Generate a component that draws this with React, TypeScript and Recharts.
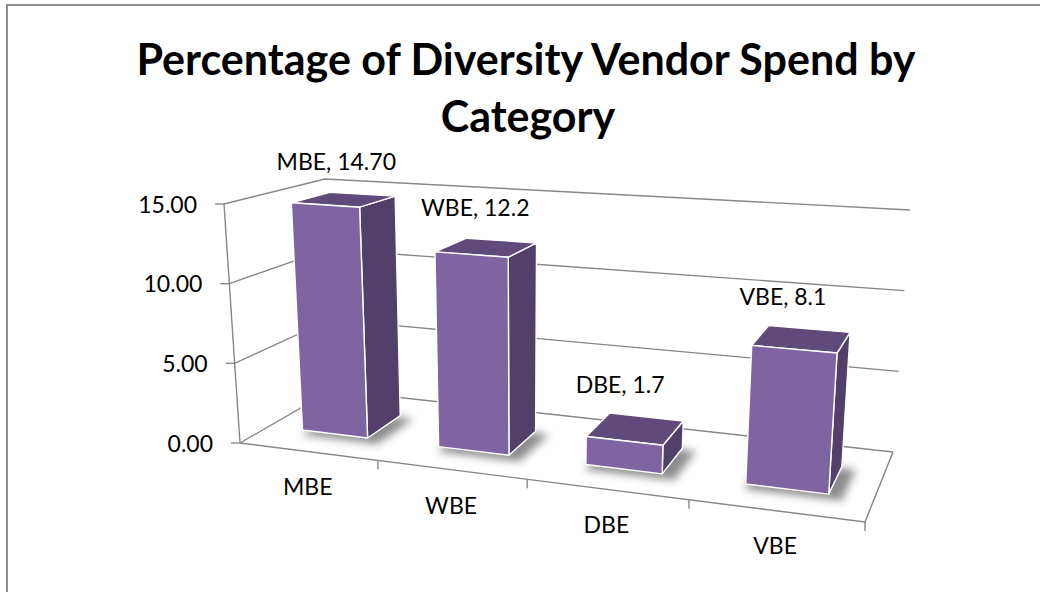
import React from "react";
import { BarChart, Bar, XAxis, YAxis, CartesianGrid, LabelList } from "recharts";

const categories = ["MBE", "WBE", "DBE", "VBE"];
const spend = [14.7, 12.2, 1.7, 8.1];
const spendLabels = ["14.70", "12.2", "1.7", "8.1"];
const yTicks = [0, 5, 10, 15];
const titleLines = ["Percentage of Diversity Vendor Spend by", "Category"];

const data = categories.map((name, i) => ({
  name,
  value: spend[i],
  label: `${name}, ${spendLabels[i]}`,
}));

const W = 1040;
const H = 592;
const MARGIN = { top: 100, right: 100, bottom: 70, left: 60 };
const Y_W = 60;
const X_H = 30;
// flat plot area recharts works in; it is then projected onto the 3d box
const PL = MARGIN.left + Y_W;
const PW = W - PL - MARGIN.right;
const PB = H - MARGIN.bottom - X_H;
const PH = PB - MARGIN.top;

const FONT = "Lato, 'Open Sans', sans-serif";
const GRID = "#878787";

// screen corners of the 3d plot box (floor and ceiling), perspective factor along x
const PERSP = -0.15;
const FLOOR = { fl: [240, 443], fr: [865, 522], bl: [332, 390], br: [893, 452] };
const CEIL = { fl: [224, 204], fr: [883, 248], bl: [325, 179], br: [910, 210] };
const DEPTH = [0.32, 0.72];

type Quad = { fl: number[]; fr: number[]; bl: number[]; br: number[] };

const bilerp = (q: Quad, u: number, z: number) => [0, 1].map(
  (k) => (1 - u) * (1 - z) * q.fl[k] + u * (1 - z) * q.fr[k] + (1 - u) * z * q.bl[k] + u * z * q.br[k]
);

const proj = (X: number, Y: number, Z: number) => {
  const u = (X * (1 + PERSP)) / (1 + PERSP * X);
  const b = bilerp(FLOOR, u, Z);
  const t = bilerp(CEIL, u, Z);
  return [b[0] + Y * (t[0] - b[0]), b[1] + Y * (t[1] - b[1])];
};

const pts = (list: number[][]) => list.map((p) => proj(p[0], p[1], p[2]).join(",")).join(" ");

const Bar3D = (props: any) => {
  const { x, width, height, index } = props;
  const xa = (x - PL) / PW;
  const xb = (x + width - PL) / PW;
  const yv = height / PH;
  const [z0, z1] = DEPTH;
  const fid = `shade-${index}`;
  const edge = { stroke: "#ffffff", strokeWidth: 1.4, strokeLinejoin: "round" as const };
  return (
    <g>
      <defs>
        <filter id={fid} x="-30%" y="-30%" width="160%" height="160%">
          <feGaussianBlur stdDeviation="4" />
        </filter>
      </defs>
      <polygon
        points={pts([[xa - 0.005, 0, z0 - 0.02], [xb + 0.015, 0, z0 - 0.02], [xb + 0.015, 0, z1 + 0.03], [xa - 0.005, 0, z1 + 0.03]])}
        fill="rgba(0,0,0,0.45)"
        filter={`url(#${fid})`}
        transform="translate(3,4)"
      />
      <polygon points={pts([[xb, 0, z0], [xb, 0, z1], [xb, yv, z1], [xb, yv, z0]])} fill="#523F6A" {...edge} />
      <polygon points={pts([[xa, yv, z0], [xb, yv, z0], [xb, yv, z1], [xa, yv, z1]])} fill="#604A7B" {...edge} />
      <polygon points={pts([[xa, 0, z0], [xb, 0, z0], [xb, yv, z0], [xa, yv, z0]])} fill="#8064A2" {...edge} />
    </g>
  );
};

const renderLabel = (props: any) => {
  const { x, width, height, value } = props;
  const xc = (x + width / 2 - PL) / PW;
  const [px, py] = proj(xc, height / PH, DEPTH[1]);
  return (
    <text x={px - 26} y={py - 30} textAnchor="middle" dominantBaseline="middle" fontFamily={FONT} fontSize={23} fill="#000">
      {value}
    </text>
  );
};

const renderYTick = (props: any) => {
  const { y, payload } = props;
  const [px, py] = proj(0, (PB - y) / PH, 0);
  return (
    <g>
      <line x1={px - 9} y1={py} x2={px} y2={py} stroke={GRID} strokeWidth={1.4} />
      <text x={px - 27} y={py + 3} textAnchor="end" dominantBaseline="middle" fontFamily={FONT} fontSize={23} fill="#000">
        {Number(payload.value).toFixed(2)}
      </text>
    </g>
  );
};

const renderXTick = (props: any) => {
  const { x, payload } = props;
  const [px, py] = proj((x - PL) / PW, 0, 0);
  return (
    <text x={px} y={py + 38} textAnchor="middle" dominantBaseline="middle" fontFamily={FONT} fontSize={23} fill="#000">
      {payload.value}
    </text>
  );
};

// each horizontal grid line becomes a line on the left wall and the back wall
const renderGridLine = (props: any) => {
  const Y = (PB - props.y1) / PH;
  const line = pts([[0, Y, 0], [0, Y, 1], [1, Y, 1]]);
  const floor = Math.abs(Y) < 1e-6;
  return (
    <g key={props.key}>
      <polyline points={line} fill="none" stroke={GRID} strokeWidth={1.4} />
      {floor && (
        <g>
          <polyline points={pts([[0, 0, 0], [1, 0, 0], [1, 0, 1]])} fill="none" stroke={GRID} strokeWidth={1.4} />
          <polyline points={pts([[0, 0, 0], [0, 1, 0]])} fill="none" stroke={GRID} strokeWidth={1.4} />
          {categories.map((c, i) => {
            const [tx, ty] = proj((i + 1) / categories.length, 0, 0);
            return <line key={c} x1={tx} y1={ty} x2={tx} y2={ty + 9} stroke={GRID} strokeWidth={1.4} />;
          })}
        </g>
      )}
    </g>
  );
};

export default function App() {
  return (
    <div style={{ position: "absolute", left: 0, top: 0, width: W, height: H, background: "#fff", overflow: "hidden" }}>
      <div
        style={{
          position: "absolute",
          left: 6,
          top: 4,
          width: W,
          height: H,
          borderLeft: "2px solid #8f8f8f",
          borderTop: "2px solid #8f8f8f",
        }}
      />
      <svg width={W} height={H} style={{ position: "absolute", left: 0, top: 0 }}>
        <text x={526} y={75} textAnchor="middle" fontFamily={FONT} fontWeight="bold" fontSize={43} fill="#000">
          {titleLines[0]}
        </text>
        <text x={528} y={132} textAnchor="middle" fontFamily={FONT} fontWeight="bold" fontSize={43} fill="#000">
          {titleLines[1]}
        </text>
      </svg>
      <div style={{ position: "absolute", left: 0, top: 0 }}>
        <BarChart width={W} height={H} data={data} margin={MARGIN} barCategoryGap="25.5%">
          <CartesianGrid horizontal={renderGridLine} vertical={false} />
          <XAxis dataKey="name" height={X_H} axisLine={false} tickLine={false} tick={renderXTick} interval={0} />
          <YAxis
            width={Y_W}
            domain={[0, 15]}
            ticks={yTicks}
            axisLine={false}
            tickLine={false}
            tick={renderYTick}
            interval={0}
          />
          <Bar dataKey="value" shape={Bar3D} isAnimationActive={false}>
            <LabelList dataKey="label" content={renderLabel} />
          </Bar>
        </BarChart>
      </div>
    </div>
  );
}
